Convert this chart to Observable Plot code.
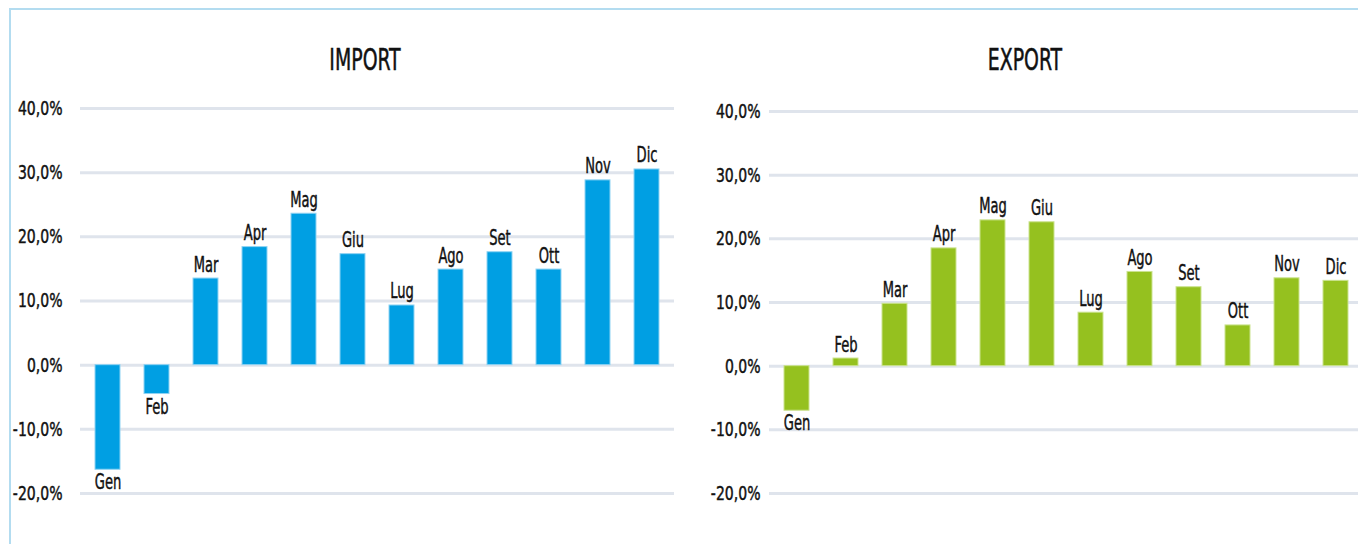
<!DOCTYPE html>
<html>
<head>
<meta charset="utf-8">
<script src="https://cdn.jsdelivr.net/npm/d3@7"></script>
<script src="https://cdn.jsdelivr.net/npm/@observablehq/plot@0.6"></script>
<style>
  html, body { margin: 0; padding: 0; background: #fff; }
  #wrap { position: relative; width: 1358px; height: 544px; overflow: hidden; background: #fff;
          font-family: "DejaVu Sans Condensed", "DejaVu Sans", sans-serif; }
  #frame { position: absolute; left: 9px; top: 8px; width: 1400px; height: 600px;
           border: 2.5px solid #b3dcf0; box-sizing: border-box; }
  .panel { position: absolute; top: 0; width: 680px; height: 544px; }
  .panel svg { max-width: none !important; }
  .panel svg text { stroke: #111; stroke-width: 0.45px; paint-order: stroke; }
  .title { position: absolute; top: 42px; width: 300px; text-align: center; font-size: 30px;
           color: #111; transform: scaleX(0.70); transform-origin: center; line-height: 36px;
           -webkit-text-stroke: 0.5px #111; }
</style>
</head>
<body>
<div id="wrap">
  <div id="frame"></div>
  <div class="title" style="left:215px">IMPORT</div>
  <div class="title" style="left:875px">EXPORT</div>
  <div class="panel" id="imp" style="left:0px"></div>
  <div class="panel" id="exp" style="left:690px"></div>
</div>
<script>
const months = ["Gen","Feb","Mar","Apr","Mag","Giu","Lug","Ago","Set","Ott","Nov","Dic"];
const importValues = [-16.3, -4.5, 13.5, 18.4, 23.6, 17.3, 9.3, 14.9, 17.6, 14.9, 28.8, 30.5];
const exportValues = [-7.0, 1.2, 9.8, 18.5, 22.9, 22.6, 8.4, 14.8, 12.4, 6.4, 13.8, 13.4];
const yTicks = [-20, -10, 0, 10, 20, 30, 40];

const fontFamily = '"DejaVu Sans Condensed", "DejaVu Sans", sans-serif';
const fmt = d => d.toFixed(1).replace(".", ",") + "%";

function panel(values, fill, stroke, opts) {
  const data = months.map((m, i) => ({month: m, value: values[i]}));
  return Plot.plot({
    width: 680,
    height: 544,
    marginLeft: opts.marginLeft,
    marginRight: opts.marginRight,
    marginTop: opts.marginTop,
    marginBottom: 51,
    style: {fontFamily, fontSize: "20px", color: "#111", background: "transparent", overflow: "visible"},
    x: {domain: months, paddingInner: 0.48, paddingOuter: 0.24, axis: null},
    y: {domain: [-20, 40], ticks: yTicks, tickFormat: fmt, tickSize: 0, tickPadding: opts.tickPadding, label: null},
    marks: [
      Plot.ruleY(yTicks, {stroke: "#dfe4ec", strokeWidth: 3}),
      Plot.barY(data, {x: "month", y: "value", fill: fill, stroke: stroke, strokeWidth: 1}),
      Plot.text(data.filter(d => d.value >= 0), {x: "month", y: "value", text: "month",
        lineAnchor: "bottom", dy: -7, fontSize: 22, fill: "#111", className: "mlabel"}),
      Plot.text(data.filter(d => d.value < 0), {x: "month", y: "value", text: "month",
        lineAnchor: "top", dy: 4, fontSize: 22, fill: "#111", className: "mlabel"})
    ]
  });
}

function condense(svg) {
  svg.querySelectorAll("text").forEach(t => {
    const isLabel = t.closest(".mlabel") !== null;
    const target = isLabel ? 0.66 : 0.78;
    const len = t.getComputedTextLength();
    if (len > 0) {
      t.setAttribute("textLength", (len * target).toFixed(1));
      t.setAttribute("lengthAdjust", "spacingAndGlyphs");
    }
  });
}

const imp = panel(importValues, "#009fe3", "#8fd3f3", {marginLeft: 80, marginRight: 6, marginTop: 108, tickPadding: 18});
const exp = panel(exportValues, "#95c11f", "#cbe38f", {marginLeft: 79, marginRight: 7, marginTop: 111, tickPadding: 9});
document.getElementById("imp").appendChild(imp);
document.getElementById("exp").appendChild(exp);
condense(imp);
condense(exp);
</script>
</body>
</html>
